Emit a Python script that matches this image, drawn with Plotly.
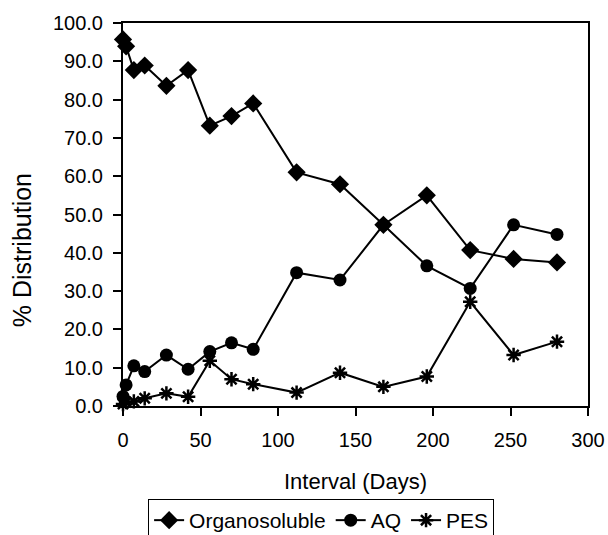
import plotly.graph_objects as go

days = [0, 2, 7, 14, 28, 42, 56, 70, 84, 112, 140, 168, 196, 224, 252, 280]
organo = [95.7, 93.9, 87.7, 88.9, 83.6, 87.7, 73.2, 75.7, 79.0, 61.0, 57.9, 47.3, 55.0, 40.7, 38.4, 37.5]
aq = [2.5, 5.5, 10.5, 9.0, 13.3, 9.6, 14.2, 16.5, 14.8, 34.8, 32.9, 47.3, 36.6, 30.7, 47.3, 44.8]
pes = [0.5, 1.0, 1.2, 2.0, 3.3, 2.4, 11.8, 7.0, 5.7, 3.5, 8.7, 5.0, 7.7, 27.2, 13.3, 16.8]

FONT = "Liberation Sans, Arial, sans-serif"

fig = go.Figure()
fig.add_trace(go.Scatter(x=days, y=organo, name="Organosoluble", mode="lines+markers",
                         line=dict(color="black", width=2),
                         marker=dict(symbol="diamond", size=14, color="black"),
                         cliponaxis=False))
fig.add_trace(go.Scatter(x=days, y=aq, name="AQ", mode="lines+markers",
                         line=dict(color="black", width=2),
                         marker=dict(symbol="circle", size=13, color="black"),
                         cliponaxis=False))
fig.add_trace(go.Scatter(x=days, y=pes, name="PES", mode="lines+markers",
                         line=dict(color="black", width=2),
                         marker=dict(symbol="asterisk-open", size=12, color="black",
                                     line=dict(color="black", width=2.5)),
                         cliponaxis=False))

axis_common = dict(showgrid=False, zeroline=False, linecolor="black", linewidth=2,
                   tickcolor="black", tickwidth=2, ticklen=8, ticks="outside",
                   tickfont=dict(family=FONT, size=20, color="black"))

fig.update_layout(
    width=608, height=535,
    margin=dict(l=123, r=20, t=23, b=129, autoexpand=False),
    plot_bgcolor="white", paper_bgcolor="white",
    font=dict(family=FONT, color="black"),
    xaxis=dict(range=[0, 300], dtick=50, tick0=0, mirror=True,
               title=dict(text="Interval (Days)", font=dict(family=FONT, size=22, color="black"), standoff=24),
               ticklabelstandoff=7, automargin=False, **axis_common),
    yaxis=dict(range=[0, 100], dtick=10, tick0=0, tickformat=".1f", mirror=True,
               ticklabelstandoff=6, automargin=False, **axis_common),
    xaxis2=dict(overlaying="x", matches="x", range=[0, 300], dtick=50, tick0=0, anchor="y",
                side="bottom", showgrid=False, zeroline=False, showline=False,
                ticks="inside", ticklen=6, tickwidth=2, tickcolor="black", showticklabels=False),
    yaxis2=dict(overlaying="y", matches="y", range=[0, 100], dtick=10, tick0=0, anchor="x",
                side="left", showgrid=False, zeroline=False, showline=False,
                ticks="inside", ticklen=7, tickwidth=2, tickcolor="black", showticklabels=False),
    showlegend=True,
    legend=dict(orientation="h", x=0.054, xanchor="left", y=-0.2428, yanchor="top",
                bordercolor="black", borderwidth=1, bgcolor="white",
                font=dict(family=FONT, size=21, color="black"),
                itemwidth=30, tracegroupgap=0),
    annotations=[dict(text="% Distribution", textangle=-90, xref="paper", yref="paper",
                      x=-0.217, y=0.407, xanchor="center", yanchor="middle", showarrow=False,
                      font=dict(family=FONT, size=25, color="black"))],
)

fig.write_html("out.html")
